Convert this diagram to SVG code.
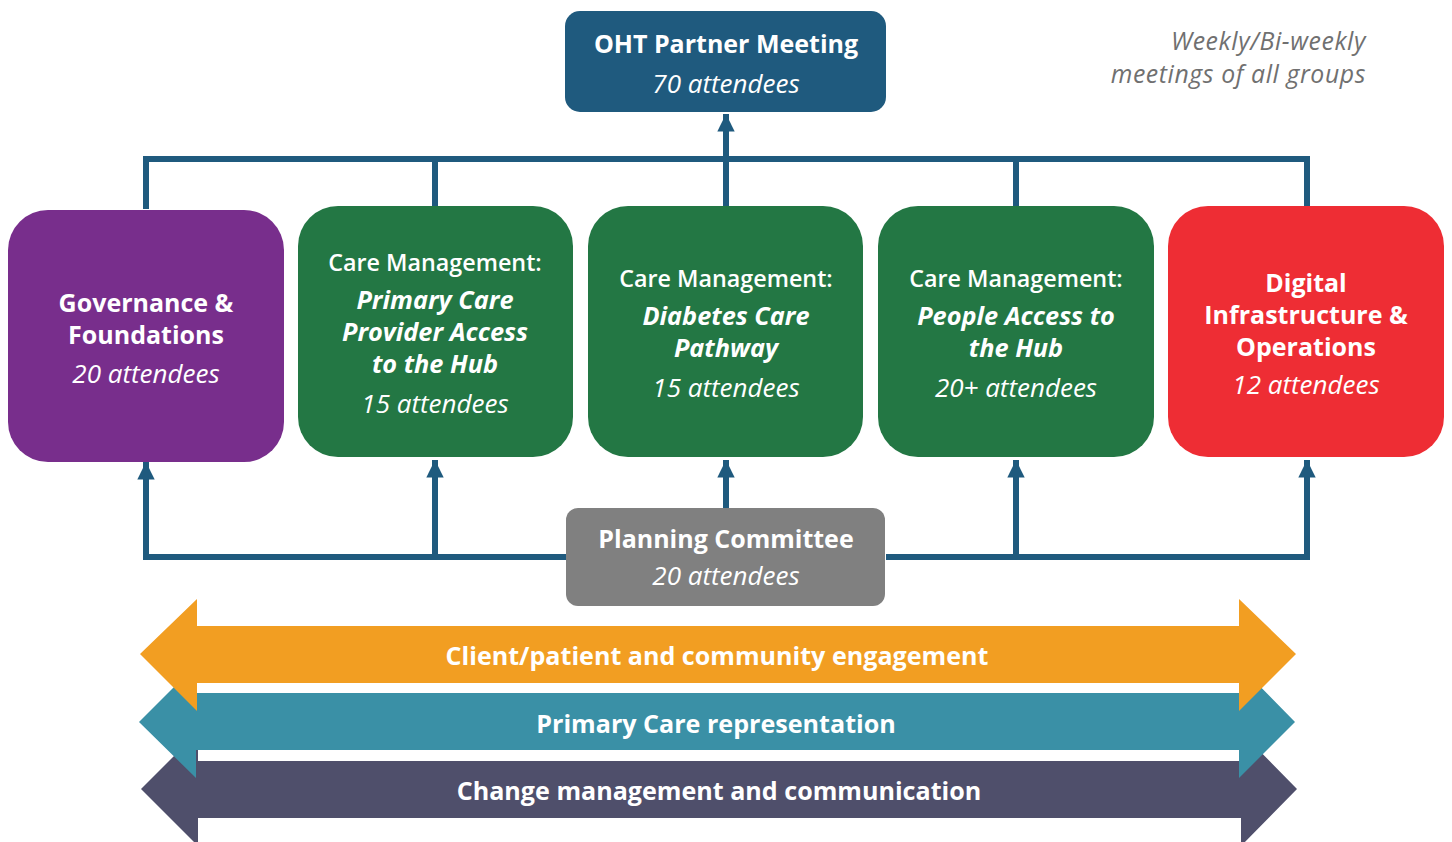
<svg xmlns="http://www.w3.org/2000/svg" width="1452" height="842" viewBox="0 0 1452 842">
<defs>
<style>
text{font-family:"Open Sans","Noto Sans","Liberation Sans",sans-serif;fill:#fff;text-anchor:middle}
.t{font-weight:700;font-size:25px}
.cm{font-weight:600;font-size:23.3px}
.bi{font-weight:700;font-style:italic;font-size:25.3px}
.it{font-style:italic;font-size:26px}
.ban{font-weight:700;font-size:25.1px}
.note{fill:#707070;font-style:italic;font-size:24.8px;letter-spacing:0.6px;text-anchor:end}
.ln{fill:none;stroke:#1F5A7E;stroke-width:6}
</style>
<marker id="ah" viewBox="0 0 10 10" refX="10" refY="5" markerWidth="3" markerHeight="2.9" orient="auto" markerUnits="strokeWidth">
<path d="M0,0 L10,5 L0,10 Z" fill="#1F5A7E"/>
</marker>
</defs>
<rect width="1452" height="842" fill="#fff"/>

<g id="connectors">
<path class="ln" d="M146,209 V159 H1307 V206"/>
<path class="ln" d="M435,159 V206"/>
<path class="ln" d="M1016,159 V206"/>
<path class="ln" d="M726,206 V114" marker-end="url(#ah)"/>
<path class="ln" d="M566,557 H146 V462" marker-end="url(#ah)"/>
<path class="ln" d="M435,557 V460" marker-end="url(#ah)"/>
<path class="ln" d="M726,508 V460" marker-end="url(#ah)"/>
<path class="ln" d="M886,557 H1307 V460" marker-end="url(#ah)"/>
<path class="ln" d="M1016,557 V460" marker-end="url(#ah)"/>
</g>

<g id="oht">
<rect x="565" y="11" width="321" height="101" rx="15" fill="#1F5A7E"/>
<text class="t" x="726" y="53" font-size="26.5">OHT Partner Meeting</text>
<text class="it" x="726" y="93">70 attendees</text>
</g>

<g id="note">
<text class="note" x="1366" y="50">Weekly/Bi-weekly</text>
<text class="note" x="1366" y="83">meetings of all groups</text>
</g>

<g id="governance">
<rect x="8" y="210" width="276" height="252" rx="40" fill="#782E8C"/>
<text class="t" x="146" y="312">Governance &amp;</text>
<text class="t" x="146" y="344">Foundations</text>
<text class="it" x="146" y="383">20 attendees</text>
</g>

<g id="primary">
<rect x="298" y="206" width="275" height="251" rx="40" fill="#237744"/>
<text class="cm" x="435" y="271">Care Management:</text>
<text class="bi" x="435" y="309">Primary Care</text>
<text class="bi" x="435" y="341">Provider Access</text>
<text class="bi" x="435" y="373">to the Hub</text>
<text class="it" x="435" y="413">15 attendees</text>
</g>

<g id="diabetes">
<rect x="588" y="206" width="275" height="251" rx="40" fill="#237744"/>
<text class="cm" x="726" y="287">Care Management:</text>
<text class="bi" x="726" y="325">Diabetes Care</text>
<text class="bi" x="726" y="357">Pathway</text>
<text class="it" x="726" y="397">15 attendees</text>
</g>

<g id="people">
<rect x="878" y="206" width="276" height="251" rx="40" fill="#237744"/>
<text class="cm" x="1016" y="287">Care Management:</text>
<text class="bi" x="1016" y="325">People Access to</text>
<text class="bi" x="1016" y="357">the Hub</text>
<text class="it" x="1016" y="397">20+ attendees</text>
</g>

<g id="digital">
<rect x="1168" y="206" width="276" height="251" rx="40" fill="#EE2D34"/>
<text class="t" x="1306" y="292">Digital</text>
<text class="t" x="1306" y="324">Infrastructure &amp;</text>
<text class="t" x="1306" y="356">Operations</text>
<text class="it" x="1306" y="394">12 attendees</text>
</g>

<g id="planning">
<rect x="566" y="508" width="319" height="98" rx="12" fill="#808080"/>
<text class="t" x="726" y="548" font-size="25.3">Planning Committee</text>
<text class="it" x="726" y="585">20 attendees</text>
</g>

<g id="banner-change">
<path d="M141,789 L198,732 V761 H1241 V732 L1297,789 L1241,846 V818 H198 V846 Z" fill="#4F4F6B"/>
<text class="ban" x="719" y="800">Change management and communication</text>
</g>
<g id="banner-primary">
<path d="M139,722 L196,665 V693 H1239 V665 L1295,722 L1239,778 V750 H196 V778 Z" fill="#3A90A6"/>
<text class="ban" x="716" y="733">Primary Care representation</text>
</g>
<g id="banner-client">
<path d="M140,654 L197,599 V626 H1239 V599 L1296,654 L1239,711 V683 H197 V711 Z" fill="#F29E22"/>
<text class="ban" x="717" y="665">Client/patient and community engagement</text>
</g>
</svg>
